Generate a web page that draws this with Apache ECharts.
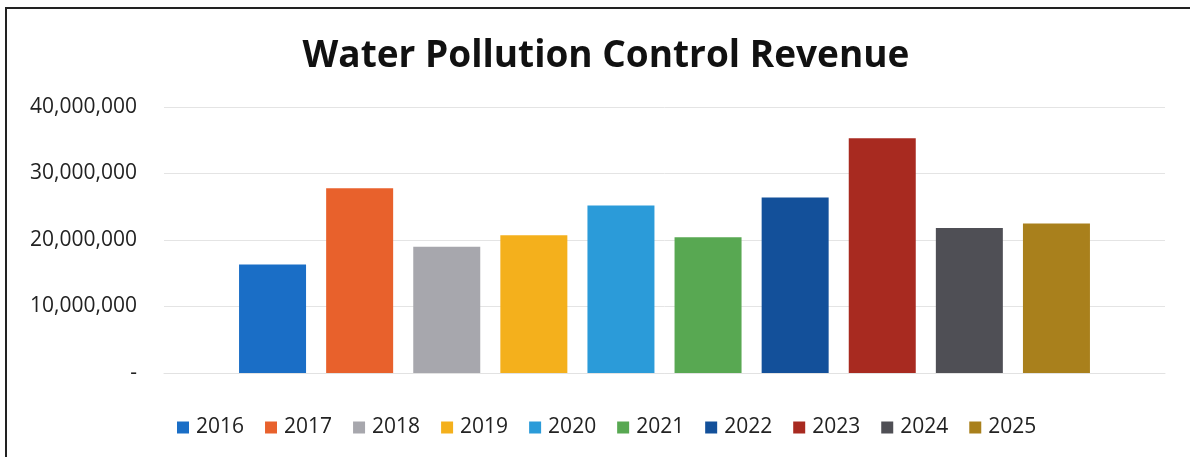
<!DOCTYPE html>
<html>
<head>
<meta charset="utf-8">
<script src="https://cdn.jsdelivr.net/npm/echarts@6/dist/echarts.min.js"></script>
<style>
html,body{margin:0;padding:0;background:#fff;}
#c{width:1190px;height:457px;}
</style>
</head>
<body>
<div id="c"></div>
<script>
const titleText = 'Water Pollution Control Revenue';
const categories = ['Revenue'];
const years = ['2016','2017','2018','2019','2020','2021','2022','2023','2024','2025'];
const values = [16300000, 27800000, 19000000, 20700000, 25200000, 20400000, 26400000, 35300000, 21800000, 22500000];
const colors = ['#1a6ec6','#e8612c','#a7a7ad','#f4b01c','#2b9bd9','#58a852','#13509a','#a82a20','#4f4f55','#a9801c'];
const yTicks = [0, 10000000, 20000000, 30000000, 40000000];

const chart = echarts.init(document.getElementById('c'));
const fontFam = '"Open Sans", sans-serif';
const series = years.map((y, i) => ({
  name: y,
  type: 'bar',
  data: [values[i]],
  barWidth: 67,
  barGap: '30%',
  itemStyle: { color: colors[i] }
}));
chart.setOption({
  animation: false,
  backgroundColor: '#fff',
  title: {
    text: titleText,
    left: 601, top: 33, textAlign: 'center',
    textStyle: { fontFamily: fontFam, fontWeight: 'bold', fontSize: 37, color: '#111' }
  },
  legend: {
    data: years,
    left: 172, top: 412,
    itemWidth: 12, itemHeight: 12, itemGap: 21,
    icon: 'rect',
    textStyle: { fontFamily: fontFam, fontSize: 21, color: '#222', padding: [0,0,0,2] }
  },
  grid: { left: 164, right: 25, top: 107, bottom: 457 - 373 },
  xAxis: {
    type: 'category', data: categories,
    axisLine: { lineStyle: { color: '#e2e2e2' } },
    axisTick: { show: false }, axisLabel: { show: false }
  },
  yAxis: {
    type: 'value', min: 0, max: 40000000, interval: 10000000,
    axisLine: { show: false }, axisTick: { show: false },
    splitLine: { lineStyle: { color: '#e4e4e4' } },
    axisLabel: {
      margin: 27, fontFamily: fontFam, fontSize: 21, color: '#222',
      formatter: v => v === 0 ? '-' : v.toLocaleString('en-US')
    }
  },
  graphic: [{
    type: 'rect', shape: { x: 6, y: 8, width: 1250, height: 500 },
    style: { fill: 'none', stroke: '#222', lineWidth: 2 }, silent: true
  }],
  series
});
</script>
</body>
</html>
